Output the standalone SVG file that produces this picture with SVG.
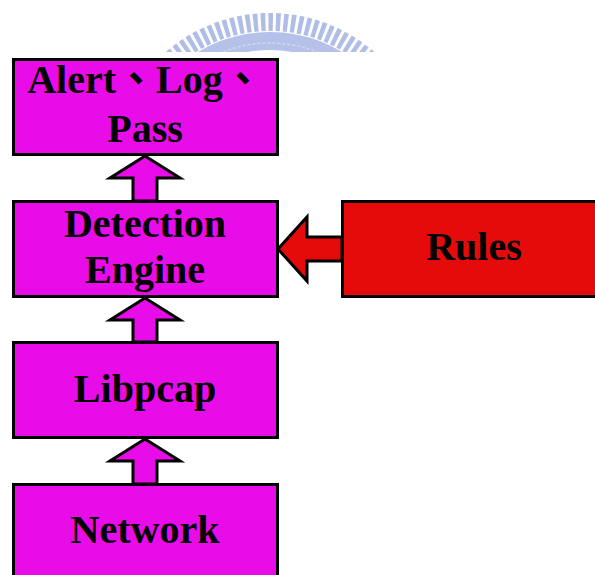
<svg xmlns="http://www.w3.org/2000/svg" width="595" height="575" viewBox="0 0 595 575">
<style>
.box{fill:#E80CE8;stroke:#000;stroke-width:3}
.red{fill:#E60B0B;stroke:#000;stroke-width:3}
.arr{fill:#E80CE8;stroke:#000;stroke-width:3;stroke-linejoin:miter}
.arrR{fill:#E60B0B;stroke:#000;stroke-width:3;stroke-linejoin:miter}
.lbl{font-family:"Liberation Serif","Noto Sans CJK TC",serif;font-weight:bold;font-size:40px;fill:#000;text-anchor:middle}
</style>
<defs>
<clipPath id="wmclip"><rect x="0" y="0" width="595" height="52"/></clipPath>
</defs>
<g id="watermark" clip-path="url(#wmclip)" opacity="0.85">
<circle cx="270" cy="172" r="150" fill="none" stroke="#A3B2E2" stroke-width="18" stroke-dasharray="4.5 3"/>
<circle cx="270" cy="172" r="131" fill="none" stroke="#A9B7E6" stroke-width="18"/>
<circle cx="270" cy="172" r="129" fill="none" stroke="#C9D2F0" stroke-width="1.5" stroke-dasharray="3 2"/>
</g>
<g id="connectors">
<polygon class="arr" points="145,156 180,178 157,178 157,201 133,201 133,178 110,178"/>
<polygon class="arr" points="145,298 180,320 157,320 157,342 133,342 133,320 110,320"/>
<polygon class="arr" points="145,439 180,461 157,461 157,484 133,484 133,461 110,461"/>
<polygon class="arrR" points="278,249 307,217 307,237 342,237 342,261 307,261 307,281"/>
</g>
<g id="alert">
<rect class="box" x="13.5" y="59.5" width="264" height="95"/>
<text class="lbl" x="145" y="93">Alert、Log、</text>
<text class="lbl" x="145" y="142">Pass</text>
</g>
<g id="detection">
<rect class="box" x="13.5" y="201.5" width="264" height="95"/>
<text class="lbl" x="145" y="237">Detection</text>
<text class="lbl" x="145" y="283">Engine</text>
</g>
<g id="rules">
<rect class="red" x="342.5" y="201.5" width="260" height="95"/>
<text class="lbl" x="474" y="260">Rules</text>
</g>
<g id="libpcap">
<rect class="box" x="13.5" y="342.5" width="264" height="95"/>
<text class="lbl" x="145" y="402">Libpcap</text>
</g>
<g id="network">
<rect class="box" x="13.5" y="484.5" width="264" height="100"/>
<text class="lbl" x="145" y="543">Network</text>
</g>
</svg>
